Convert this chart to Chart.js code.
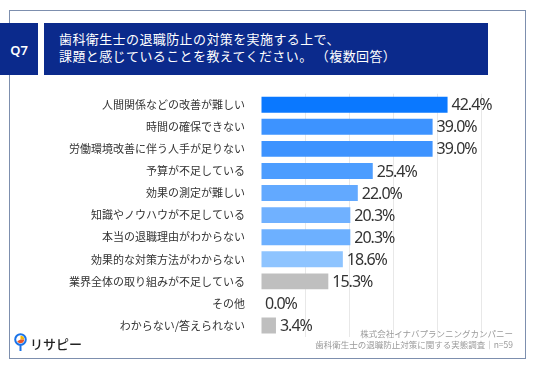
<!DOCTYPE html>
<html lang="ja">
<head>
<meta charset="utf-8">
<script src="https://cdn.jsdelivr.net/npm/chart.js@4/dist/chart.umd.min.js"></script>
<style>
  html, body { margin: 0; padding: 0; background: #fff; }
  body { width: 536px; height: 371px; position: relative; overflow: hidden;
         font-family: "Noto Sans CJK JP", "Noto Sans", sans-serif; }
  #frame { position: absolute; left: 9px; top: 10px; width: 517px; height: 349px;
           border: 1.5px solid #7d8fae; box-sizing: border-box; }
  #qbox { position: absolute; left: 0; top: 23px; width: 38px; height: 52px; background: #0b2a8c;
          color: #fff; font: 600 13px "Noto Sans", sans-serif; display: flex; align-items: center;
          justify-content: center; padding-top: 2px; box-sizing: border-box; }
  #title { position: absolute; left: 44px; top: 23px; width: 444px; height: 52px; background: #0b2a8c;
           color: #fff; font-size: 13px; line-height: 16.5px; letter-spacing: 0.4px;
           padding: 8px 0 0 15px; box-sizing: border-box; }
  #chart { position: absolute; left: 0; top: 0; }
  #source { position: absolute; right: 23px; top: 328px; text-align: right; color: #9a9a9a;
            font-size: 8.5px; line-height: 11px; }
  #logo { position: absolute; left: 14px; top: 333px; display: flex; align-items: center;
          color: #222; font-size: 13px; font-weight: 500; }
  #logo svg { margin-right: 3px; }
</style>
</head>
<body>
<div id="frame"></div>
<canvas id="chart" width="536" height="371"></canvas>
<div id="qbox">Q7</div>
<div id="title">歯科衛生士の退職防止の対策を実施する上で、<br>課題と感じていることを教えてください。 （複数回答）</div>
<div id="source">株式会社イナバプランニングカンパニー<br>歯科衛生士の退職防止対策に関する実態調査｜n=59</div>
<div id="logo">
  <svg width="13" height="20" viewBox="0 0 13 20">
    <circle cx="6.5" cy="6.5" r="5.3" fill="#fff" stroke="#1a73e8" stroke-width="2"/>
    <path d="M6.5 6.5 L6.5 2.8 A3.7 3.7 0 0 1 10.2 6.5 Z" fill="#f2b705"/>
    <path d="M6.5 6.5 L10.2 6.5 A3.7 3.7 0 0 1 3.2 8.2 Z" fill="#e8552b"/>
    <line x1="6.5" y1="12" x2="6.5" y2="18" stroke="#1a73e8" stroke-width="2"/>
  </svg>
  <span>リサピー</span>
</div>
<script>
// ── DATA ──
const categories = [
  '人間関係などの改善が難しい',
  '時間の確保できない',
  '労働環境改善に伴う人手が足りない',
  '予算が不足している',
  '効果の測定が難しい',
  '知識やノウハウが不足している',
  '本当の退職理由がわからない',
  '効果的な対策方法がわからない',
  '業界全体の取り組みが不足している',
  'その他',
  'わからない/答えられない'
];
const values = [42.4, 39.0, 39.0, 25.4, 22.0, 20.3, 20.3, 18.6, 15.3, 0.0, 3.4];
const barColors = [
  '#0a78ff', '#3d93ff', '#3d93ff', '#4c9dff', '#62a9ff', '#70b1ff',
  '#6db0ff', '#8ec4ff', '#bfbfbf', '#bfbfbf', '#bfbfbf'
];
const xMin = 0, xMax = 60, xStep = 10;

// ── VALUE LABELS AFTER BARS ──
const valueLabels = {
  id: 'valueLabels',
  afterDatasetsDraw(chart) {
    const ctx = chart.ctx;
    const meta = chart.getDatasetMeta(0);
    ctx.save();
    ctx.font = '16px "Noto Sans", sans-serif';
    ctx.fillStyle = '#333';
    ctx.textAlign = 'left';
    ctx.textBaseline = 'middle';
    if ('letterSpacing' in ctx) ctx.letterSpacing = '-1px';
    meta.data.forEach((bar, i) => {
      ctx.fillText(values[i].toFixed(1) + '%', bar.x + 4, bar.y + 1);
    });
    ctx.restore();
  }
};

new Chart(document.getElementById('chart'), {
  type: 'bar',
  data: {
    labels: categories,
    datasets: [{
      data: values,
      backgroundColor: barColors,
      borderWidth: 0,
      barPercentage: 0.72,
      categoryPercentage: 1
    }]
  },
  options: {
    indexAxis: 'y',
    responsive: false,
    animation: false,
    layout: { padding: { top: 93.7, bottom: 34.4, left: 0, right: 11 } },
    plugins: { legend: { display: false }, tooltip: { enabled: false } },
    scales: {
      x: {
        min: xMin, max: xMax,
        ticks: { display: false, stepSize: xStep },
        border: { display: false },
        grid: {
          drawTicks: false,
          color: c => (c.tick && (c.tick.value === xMin || c.tick.value === xMax)) ? 'rgba(0,0,0,0)' : '#e8e8e8'
        },
        afterFit: s => { s.height = 0; }
      },
      y: {
        grid: { display: false },
        border: { display: false },
        ticks: {
          color: '#333',
          padding: 8,
          font: { family: '"Noto Sans CJK JP", sans-serif', size: 11 }
        },
        afterFit: s => { s.width = 261; }
      }
    }
  },
  plugins: [valueLabels]
});
</script>
</body>
</html>
